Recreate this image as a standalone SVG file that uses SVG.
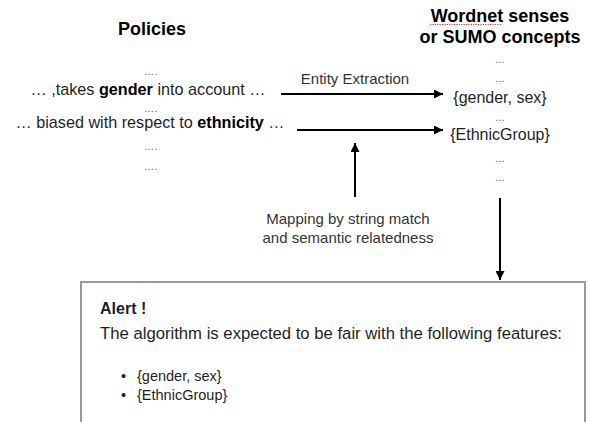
<svg xmlns="http://www.w3.org/2000/svg" width="589" height="422" viewBox="0 0 589 422">
<style>
text{font-family:"Liberation Sans",Arial,sans-serif;fill:#1f1f1f}
.h{font-weight:bold;font-size:18px;fill:#000;text-anchor:middle}
.t{font-size:16.2px;text-anchor:middle}
.r{font-size:16px;text-anchor:middle}
.d{font-size:10px;letter-spacing:0.6px;text-anchor:middle;fill:#555}
.l{font-size:15px;text-anchor:middle;fill:#333}
.b{font-weight:bold;fill:#000}
.c line{stroke:#000;stroke-width:2}
</style>
<defs>
<marker id="ah" viewBox="0 0 10 10" refX="10" refY="5" markerWidth="4.5" markerHeight="4.5" orient="auto" markerUnits="strokeWidth">
<path d="M0,0 L10,5 L0,10 z" fill="#000"/>
</marker>
</defs>
<rect width="589" height="422" fill="#fff"/>
<g id="policies">
<text class="h" x="152" y="35">Policies</text>
<text class="d" x="151" y="75">….</text>
<text class="t" x="148" y="95">… ,takes <tspan class="b">gender</tspan> into account …</text>
<text class="d" x="151" y="112">….</text>
<text class="t" x="150" y="128">… biased with respect to <tspan class="b">ethnicity</tspan> …</text>
<text class="d" x="151" y="150">….</text>
<text class="d" x="151" y="170">….</text>
</g>
<g id="senses">
<text class="h" x="500" y="22">Wordnet senses</text>
<line x1="430" y1="24.5" x2="502" y2="24.5" stroke="#e03030" stroke-width="1.2" stroke-dasharray="1.2 1.2"/>
<text class="h" x="500" y="43">or SUMO concepts</text>
<text class="d" x="500" y="63">…</text>
<text class="d" x="500" y="82">…</text>
<text class="r" x="500" y="103">{gender, sex}</text>
<text class="d" x="500" y="121">…</text>
<text class="r" x="500" y="140">{EthnicGroup}</text>
<text class="d" x="500" y="162">…</text>
<text class="d" x="500" y="181">…</text>
</g>
<g id="mapping-label">
<text class="l" x="355" y="84">Entity Extraction</text>
<text class="l" x="348" y="224">Mapping by string match</text>
<text class="l" x="348" y="243">and semantic relatedness</text>
</g>
<g id="alert">
<rect x="81" y="282" width="504" height="160" fill="#fff" stroke="#9a9a9a" stroke-width="2"/>
<text x="100" y="314" font-size="16" font-weight="bold" fill="#000">Alert !</text>
<text x="100" y="339" font-size="16.7">The algorithm is expected to be fair with the following features:</text>
<text x="121" y="381" font-size="14.5">•</text>
<text x="137" y="381" font-size="14.5">{gender, sex}</text>
<text x="121" y="400" font-size="14.5">•</text>
<text x="137" y="400" font-size="14.5">{EthnicGroup}</text>
</g>
<g class="c" id="connectors">
<line x1="281" y1="94" x2="443" y2="94" marker-end="url(#ah)"/>
<line x1="297" y1="130" x2="443" y2="130" marker-end="url(#ah)"/>
<line x1="355" y1="197" x2="355" y2="143" marker-end="url(#ah)"/>
<line x1="500" y1="198" x2="500" y2="280" marker-end="url(#ah)"/>
</g>
</svg>
